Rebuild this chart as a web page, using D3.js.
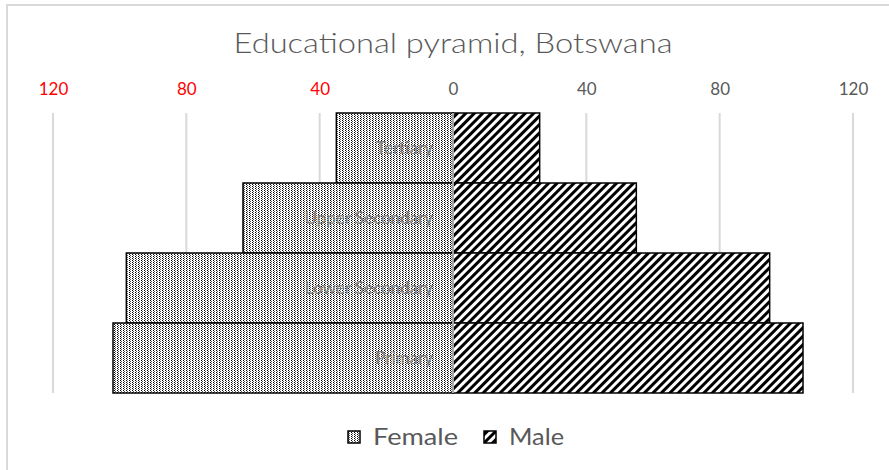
<!DOCTYPE html>
<html>
<head>
<meta charset="utf-8">
<script src="https://cdn.jsdelivr.net/npm/d3@7"></script>
<style>
  body { margin: 0; background: #fff; }
  svg { display: block; font-family: Lato, "Open Sans", sans-serif; }
</style>
</head>
<body>
<svg id="chart"></svg>
<script>
const width = 889;
const height = 470;

// data (percent)
const levels = ["Tertiary", "Upper Secondary", "Lower Secondary", "Primary"];
const female = [35, 63, 98, 102];
const male = [26, 55, 95, 105];
const ticks = [-120, -80, -40, 0, 40, 80, 120];

const svg = d3.select("#chart")
  .attr("width", width)
  .attr("height", height);

// patterns
const defs = svg.append("defs");
const dots = defs.append("pattern")
  .attr("id", "dots")
  .attr("patternUnits", "userSpaceOnUse")
  .attr("width", 3)
  .attr("height", 2);
dots.append("rect").attr("width", 3).attr("height", 2).attr("fill", "#fff");
dots.append("rect").attr("x", 0).attr("y", 0).attr("width", 1).attr("height", 1).attr("fill", "#000");
dots.append("rect").attr("x", 1).attr("y", 1).attr("width", 1).attr("height", 1).attr("fill", "#555");

const stripes = defs.append("pattern")
  .attr("id", "stripes")
  .attr("patternUnits", "userSpaceOnUse")
  .attr("width", 6)
  .attr("height", 6)
  .attr("patternTransform", "rotate(45)");
stripes.append("rect").attr("width", 6).attr("height", 6).attr("fill", "#fff");
stripes.append("rect").attr("width", 3).attr("height", 6).attr("fill", "#000");

// chart border
svg.append("rect")
  .attr("x", 7)
  .attr("y", 5)
  .attr("width", 900)
  .attr("height", 500)
  .attr("fill", "none")
  .attr("stroke", "#d9d9d9")
  .attr("stroke-width", 2);

const x = d3.scaleLinear()
  .domain([-120, 120])
  .range([53, 853]);

const y = d3.scaleBand()
  .domain(levels)
  .range([113, 393])
  .padding(0);

// title
svg.append("text")
  .attr("x", 453)
  .attr("y", 53)
  .attr("text-anchor", "middle")
  .attr("font-size", 27)
  .attr("font-weight", 300)
  .attr("textLength", 439)
  .attr("lengthAdjust", "spacingAndGlyphs")
  .attr("fill", "#595959")
  .text("Educational pyramid, Botswana");

// gridlines
svg.append("g")
  .selectAll("line")
  .data(ticks)
  .join("line")
  .attr("x1", d => x(d))
  .attr("x2", d => x(d))
  .attr("y1", 113)
  .attr("y2", 393)
  .attr("stroke", "#d9d9d9")
  .attr("stroke-width", 2);

// axis on top
const axis = svg.append("g")
  .attr("transform", "translate(0,95)")
  .call(d3.axisTop(x).tickValues(ticks).tickSize(0).tickPadding(0).tickFormat(d => Math.abs(d)));
axis.select(".domain").remove();
axis.selectAll("text")
  .attr("font-family", "Lato, sans-serif")
  .attr("font-size", 17)
  .attr("fill", d => d < 0 ? "#ff0000" : "#595959");

// bars
const rows = levels.map((l, i) => ({ level: l, female: female[i], male: male[i] }));

svg.append("g")
  .selectAll("rect")
  .data(rows)
  .join("rect")
  .attr("x", d => x(-d.female))
  .attr("y", d => y(d.level))
  .attr("width", d => x(0) - x(-d.female))
  .attr("height", y.bandwidth())
  .attr("fill", "url(#dots)")
  .attr("stroke", "#000")
  .attr("stroke-width", 1.5);

svg.append("g")
  .selectAll("rect")
  .data(rows)
  .join("rect")
  .attr("x", x(0))
  .attr("y", d => y(d.level))
  .attr("width", d => x(d.male) - x(0))
  .attr("height", y.bandwidth())
  .attr("fill", "url(#stripes)")
  .attr("stroke", "#000")
  .attr("stroke-width", 1.5);

// zero line on top
svg.append("line")
  .attr("x1", x(0))
  .attr("x2", x(0))
  .attr("y1", 113)
  .attr("y2", 393)
  .attr("stroke", "#d9d9d9")
  .attr("stroke-width", 1.5);

// category labels
svg.append("g")
  .selectAll("text")
  .data(levels)
  .join("text")
  .attr("x", x(0) - 20)
  .attr("y", d => y(d) + y.bandwidth() / 2)
  .attr("dy", "0.35em")
  .attr("text-anchor", "end")
  .attr("font-size", 17)
  .attr("fill", "#7f7f7f")
  .text(d => d);

// legend
const legend = svg.append("g");
const items = [
  { name: "Female", fill: "url(#dots)", x: 348, w: 85 },
  { name: "Male", fill: "url(#stripes)", x: 484, w: 55 }
];
legend.selectAll("rect")
  .data(items)
  .join("rect")
  .attr("x", d => d.x)
  .attr("y", 431)
  .attr("width", 12)
  .attr("height", 12)
  .attr("fill", d => d.fill)
  .attr("stroke", "#000")
  .attr("stroke-width", 1.5);
legend.selectAll("text")
  .data(items)
  .join("text")
  .attr("x", d => d.x + 25)
  .attr("y", 445)
  .attr("font-size", 23)
  .attr("textLength", d => d.w)
  .attr("lengthAdjust", "spacingAndGlyphs")
  .attr("fill", "#595959")
  .text(d => d.name);
</script>
</body>
</html>
